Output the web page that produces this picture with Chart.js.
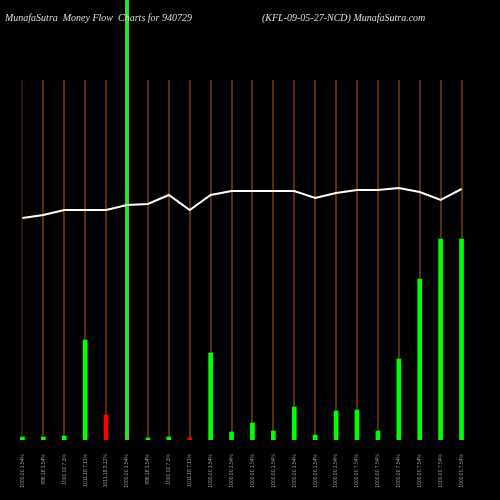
<!DOCTYPE html>
<html><head><script src="https://cdn.jsdelivr.net/npm/chart.js@4"></script>
<style>body{margin:0;background:#000}#w{position:relative;width:500px;height:500px}
.t{position:absolute;top:12px;color:#ddd;font:italic 10px "Liberation Serif",serif;white-space:nowrap}</style></head>
<body><div id="w"><canvas id="c" width="500" height="500"></canvas>
<div class="t" style="left:5px">MunafaSutra&nbsp; Money Flow&nbsp; Charts for 940729</div>
<div class="t" style="left:262px">(KFL-09-05-27-NCD) MunafaSutra.com</div></div>
<script>
const labels=["1000.00 1.54%","996.18 1.54%","1000.02 7.1%","1011.18 7.11%","1011.18 3.12%","1000.00 1.54%","996.18 1.54%","1000.02 7.1%","1011.18 7.11%","1000.00 1.54%","1000.00 1.54%","1000.00 1.54%","1000.00 1.54%","1000.00 1.54%","1000.00 1.54%","1000.00 1.54%","1000.00 7.54%","1000.00 7.54%","1000.00 7.54%","1000.00 7.54%","1000.00 7.54%","1000.00 7.54%"];
const volumes=[3,3,4,100,25,460,2,3,2,87,8,17,9,33,5,29,30,9,81,161,201,201];
const direction=[1,1,1,1,0,1,1,1,0,1,1,1,1,1,1,1,1,1,1,1,1,1];
const price=[222,225,230,230,230,235,236,245,230,245,249,249,249,249,242,247,250,250,252,248,240,251];
const vlines={id:'v',beforeDatasetsDraw(ch){const c=ch.ctx,x=ch.scales.x,y=ch.scales.y;c.save();c.lineWidth=1.3;
labels.forEach((l,i)=>{const px=Math.round(x.getPixelForValue(i));c.strokeStyle=i==0?'#4a2a00':'#8a4a10';c.beginPath();c.moveTo(px,y.getPixelForValue(360));c.lineTo(px,y.getPixelForValue(0));c.stroke();});c.restore();}};
new Chart(document.getElementById('c'),{type:'bar',data:{labels,datasets:[
{type:'line',data:price,borderColor:'#fff',borderWidth:2,pointRadius:0,tension:0,order:0},
{data:volumes,backgroundColor:direction.map(d=>d?'#00ff00':'#ff0000'),borderColor:volumes.map(v=>v>440?'#999':'rgba(0,0,0,0)'),borderWidth:volumes.map(v=>v>440?1:0),barThickness:volumes.map(v=>v>440?7:4),order:1}]},
options:{responsive:false,animation:false,layout:{padding:{left:12,right:28,top:0,bottom:0}},plugins:{legend:{display:false},tooltip:{enabled:false}},
scales:{x:{grid:{display:false,drawTicks:false},border:{display:false},ticks:{color:'#999',font:{size:5},maxRotation:90,minRotation:90,autoSkip:false,padding:14},afterFit(a){a.height=60}},
y:{display:false,min:0,max:440}}},plugins:[vlines]});
</script></body></html>
